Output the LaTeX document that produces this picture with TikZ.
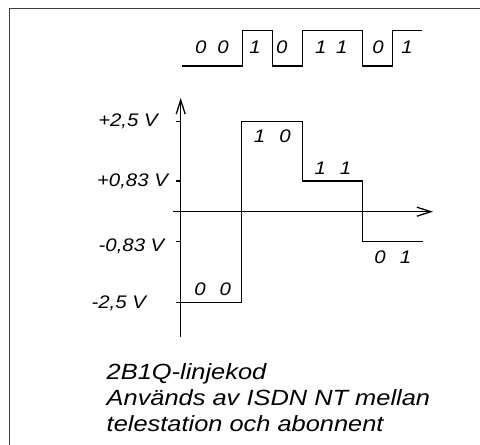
\documentclass[tikz,border=0pt]{standalone}
\usepackage{fontspec}
\setmainfont{Liberation Sans}
\usetikzlibrary{arrows.meta}
\newcommand\sx[1]{\scalebox{1.12}[1]{#1}}
\newcommand\cx[1]{\scalebox{1.155}[1]{#1}}
\begin{document}
\begin{tikzpicture}[x=1pt,y=-1pt,
  wave/.style={line width=1.5pt,line join=miter},
  axisln/.style={line width=1.5pt,-{Straight Barb[length=14pt,width=9pt,line width=1.3pt]}},
  tickln/.style={line width=1.5pt},
  dig/.style={inner sep=0pt,font=\fontsize{18.2}{21}\selectfont\itshape},
  lab/.style={inner sep=0pt,font=\fontsize{18.2}{21}\selectfont\itshape},
  captext/.style={inner sep=0pt,anchor=base west,font=\fontsize{22}{26}\selectfont\itshape}]
\useasboundingbox (0,0) rectangle (480,445);
% frame
\coordinate (fb) at (9.3,445);
\coordinate (fc) at (9.3,8.3);
\coordinate (fr) at (480,8.3);
\draw[line width=1.6pt,black!75] (fb) -- (fc) -- (fr);
% top bit stream
\coordinate (t0) at (182,66);
\coordinate (t1) at (242.3,66);
\coordinate (t2) at (242.3,30.5);
\coordinate (t3) at (272.3,30.5);
\coordinate (t4) at (272.3,66);
\coordinate (t5) at (302.7,66);
\coordinate (t6) at (302.7,30.5);
\coordinate (t7) at (362.7,30.5);
\coordinate (t8) at (362.7,66);
\coordinate (t9) at (392.7,66);
\coordinate (t10) at (392.7,30.5);
\coordinate (t11) at (422.3,30.5);
\draw[wave] (t0) -- (t1) -- (t2) -- (t3) -- (t4) -- (t5) -- (t6) -- (t7) -- (t8) -- (t9) -- (t10) -- (t11);
\node[dig] (b1) at (200.7,47) {\sx{0}};
\node[dig] (b2) at (223,47) {\sx{0}};
\node[dig] (b3) at (255,47) {\sx{1}};
\node[dig] (b4) at (281.7,47) {\sx{0}};
\node[dig] (b5) at (320.7,47) {\sx{1}};
\node[dig] (b6) at (341.7,47) {\sx{1}};
\node[dig] (b7) at (378,47) {\sx{0}};
\node[dig] (b8) at (407,47) {\sx{1}};
% axes
\coordinate (ya) at (180.7,337);
\coordinate (yb) at (180.7,98);
\coordinate (xa) at (173,211.7);
\coordinate (xb) at (433,211.7);
\draw[axisln] (ya) -- (yb);
\draw[axisln] (xa) -- (xb);
% ticks
\foreach \n/\y in {p25/121.5,p08/181,m08/241.7,m25/302.3}{
  \coordinate (k\n a) at (176,\y);
  \coordinate (k\n b) at (180.7,\y);
  \draw[tickln] (k\n a) -- (k\n b);
}
% level labels
\node[lab] (lp25) at (128,121) {\sx{+2,5 V}};
\node[lab] (lp08) at (132.5,181.5) {\sx{+0,83 V}};
\node[lab] (lm08) at (131.5,246.7) {\sx{-0,83 V}};
\node[lab] (lm25) at (118.8,303) {\sx{-2,5 V}};
% 2B1Q waveform
\coordinate (w0) at (180.7,302.3);
\coordinate (w1) at (241.7,302.3);
\coordinate (w2) at (241.7,121.5);
\coordinate (w3) at (302.3,121.5);
\coordinate (w4) at (302.3,181);
\coordinate (w5) at (362.7,181);
\coordinate (w6) at (362.7,241.7);
\coordinate (w7) at (423.3,241.7);
\draw[wave] (w0) -- (w1) -- (w2) -- (w3) -- (w4) -- (w5) -- (w6) -- (w7);
\node[dig] (s00) at (212.6,289) {\sx{0\hspace{12.5pt}0}};
\node[dig] (s10) at (272.3,136.7) {\sx{1\hspace{12.5pt}0}};
\node[dig] (s11) at (333,168.3) {\sx{1\hspace{12.5pt}1}};
\node[dig] (s01) at (392.8,257.3) {\sx{0\hspace{12.5pt}1}};
% caption
\node[captext] (c1) at (106.5,379.3) {\cx{2B1Q-linjekod}};
\node[captext] (c2) at (106.5,405.3) {\cx{Används av ISDN NT mellan}};
\node[captext] (c3) at (106.5,431.5) {\cx{telestation och abonnent}};
\end{tikzpicture}
\end{document}
